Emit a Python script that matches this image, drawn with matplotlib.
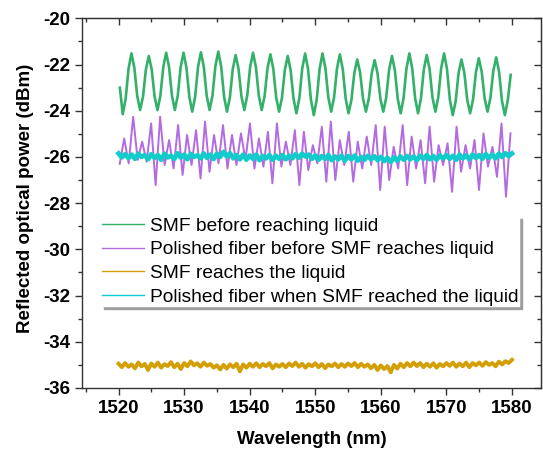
import numpy as np
import matplotlib
matplotlib.use('Agg')
import matplotlib.pyplot as plt
from matplotlib.ticker import MultipleLocator

plt.rcParams['font.family'] = ['Liberation Sans', 'DejaVu Sans']
plt.rcParams['axes.unicode_minus'] = False

# --- data ------------------------------------------------------------------
labels = ['SMF before reaching liquid',
          'Polished fiber before SMF reaches liquid',
          'SMF reaches the liquid',
          'Polished fiber when SMF reached the liquid']
colors = ['#33b06a', '#b36be0', '#d39f06', '#12cbcb']

# SMF before reaching liquid (peaks / shoulders / troughs)
wl_smf = np.linspace(1520.2, 1579.8, 136)
p_smf = [
    -23.00, -24.15, -23.49, -22.18, -21.52, -22.13, -23.36, -23.97, -23.39, -22.21,
    -21.63, -22.21, -23.39, -23.97, -23.35, -22.11, -21.49, -22.11, -23.35, -23.97,
    -23.35, -22.11, -21.49, -22.13, -23.40, -24.04, -23.40, -22.11, -21.47, -22.10,
    -23.35, -23.97, -23.34, -22.07, -21.44, -22.09, -23.39, -24.04, -23.43, -22.20,
    -21.59, -22.19, -23.38, -23.97, -23.35, -22.11, -21.49, -22.11, -23.35, -23.97,
    -23.37, -22.16, -21.56, -22.18, -23.42, -24.04, -23.44, -22.23, -21.63, -22.25,
    -23.49, -24.11, -23.46, -22.17, -21.52, -22.19, -23.52, -24.19, -23.52, -22.19,
    -21.52, -22.15, -23.41, -24.04, -23.42, -22.18, -21.56, -22.20, -23.47, -24.11,
    -23.53, -22.36, -21.78, -22.35, -23.48, -24.04, -23.48, -22.37, -21.81, -22.37,
    -23.48, -24.04, -23.44, -22.23, -21.63, -22.25, -23.49, -24.11, -23.46, -22.17,
    -21.52, -22.17, -23.46, -24.11, -23.48, -22.22, -21.59, -22.20, -23.43, -24.04,
    -23.41, -22.15, -21.52, -22.19, -23.52, -24.19, -23.59, -22.38, -21.78, -22.36,
    -23.53, -24.11, -23.52, -22.33, -21.73, -22.31, -23.46, -24.04, -23.45, -22.28,
    -21.69, -22.32, -23.57, -24.19, -23.55, -22.45,
]

# Polished fiber before SMF reaches liquid (alternating peaks / troughs)
wl_pol = np.linspace(1520.175, 1579.77, 88)
p_pol = [
    -26.30, -25.20, -26.28,
    -24.26, -26.13, -25.34, -26.21, -24.55, -27.22, -24.26, -26.35, -25.27, -26.50,
    -24.62, -26.78, -25.05, -26.35, -24.84, -26.93, -24.47, -26.64, -25.05, -26.28,
    -24.62, -26.50, -25.05, -26.35, -24.98, -26.13, -24.55, -26.50, -25.20, -26.42,
    -24.91, -27.14, -24.55, -26.42, -25.34, -26.35, -24.84, -27.22, -24.91, -26.57,
    -25.49, -26.28, -24.69, -27.07, -24.47, -27.00, -25.27, -26.35, -24.91, -27.07,
    -25.34, -26.50, -25.12, -26.35, -24.62, -27.43, -24.69, -27.00, -25.56, -26.50,
    -24.62, -27.22, -25.12, -26.50, -25.27, -27.14, -24.69, -27.07, -25.49, -26.35,
    -25.41, -27.51, -24.69, -26.64, -25.49, -26.50, -25.27, -27.43, -24.98, -26.42,
    -25.56, -26.86, -24.55, -27.72, -24.98,
]

# noisy traces, 0.5 nm step
wl_noise = np.linspace(1520, 1580, 121)
p_smf_liq = [
    -34.95, -35.10, -34.92, -35.08, -34.98, -35.15, -34.90, -35.06, -34.96, -35.22,
    -34.94, -35.08, -34.90, -35.12, -34.97, -35.05, -34.88, -35.10, -34.95, -35.18,
    -34.92, -35.06, -34.85, -35.02, -34.93, -35.08, -34.90, -35.04, -34.96, -35.12,
    -35.02, -35.20, -35.00, -35.16, -34.98, -35.10, -34.95, -35.28, -34.98, -35.12,
    -34.95, -35.08, -34.93, -35.10, -34.96, -35.06, -34.92, -35.15, -34.98, -35.08,
    -34.96, -35.10, -34.94, -35.05, -34.90, -35.08, -34.95, -35.12, -34.97, -35.06,
    -34.93, -35.10, -34.96, -35.14, -34.98, -35.06, -34.94, -35.10, -34.96, -35.08,
    -34.94, -35.05, -34.92, -35.10, -34.95, -35.08, -34.98, -35.14, -35.00, -35.22,
    -35.02, -35.18, -35.05, -35.32, -35.00, -35.16, -34.95, -35.10, -34.92, -35.06,
    -34.90, -35.05, -34.92, -35.10, -34.95, -35.08, -34.93, -35.12, -34.96, -35.06,
    -34.92, -35.04, -34.90, -35.08, -34.94, -35.06, -34.90, -35.10, -34.92, -35.02,
    -34.90, -35.04, -34.88, -35.00, -34.92, -35.06, -34.86, -34.98, -34.84, -34.92,
    -34.78,
]
p_pol_liq = [
    -25.85, -26.02, -25.88, -26.05, -25.90, -26.08, -25.86, -26.00, -25.92, -26.10,
    -25.88, -26.04, -25.92, -26.12, -25.86, -26.02, -25.95, -26.08, -25.84, -26.03,
    -25.90, -26.10, -25.87, -26.00, -25.93, -26.06, -25.85, -26.04, -25.90, -26.09,
    -25.86, -26.00, -25.78, -25.98, -25.84, -26.06, -25.92, -26.10, -25.90, -26.12,
    -25.94, -26.08, -25.90, -26.14, -25.96, -26.06, -25.92, -26.12, -25.95, -26.08,
    -25.92, -26.10, -25.95, -26.06, -25.88, -26.04, -25.86, -25.98, -25.90, -26.08,
    -25.94, -26.12, -25.96, -26.08, -25.92, -26.14, -25.98, -26.10, -25.95, -26.16,
    -25.96, -26.10, -25.94, -26.16, -26.00, -26.12, -25.95, -26.10, -25.97, -26.14,
    -26.00, -26.18, -26.04, -26.22, -26.02, -26.16, -25.98, -26.12, -25.96, -26.10,
    -25.98, -26.14, -25.95, -26.08, -25.92, -26.10, -25.96, -26.12, -25.94, -26.06,
    -25.92, -26.08, -25.95, -26.12, -25.90, -26.06, -25.93, -26.10, -25.90, -26.04,
    -25.92, -26.08, -25.88, -26.04, -25.90, -26.06, -25.86, -26.00, -25.84, -25.96,
    -25.85,
]

# --- figure -----------------------------------------------------------------
fig = plt.figure(figsize=(5.43, 4.51), dpi=100)
ax = fig.add_axes([0.1519, 0.1397, 0.8453, 0.8197])

ax.plot(wl_smf, p_smf, color=colors[0], lw=1.9, label=labels[0])
ax.plot(wl_pol, p_pol, color=colors[1], lw=1.4, label=labels[1])
ax.plot(wl_noise, p_smf_liq, color=colors[2], lw=2.8, label=labels[2])
ax.plot(wl_noise, p_pol_liq, color=colors[3], lw=3.4, label=labels[3])

ax.set_xlim(1514.5, 1584.5)
ax.set_ylim(-36, -20)
ax.xaxis.set_major_locator(MultipleLocator(10))
ax.xaxis.set_minor_locator(MultipleLocator(5))
ax.yaxis.set_major_locator(MultipleLocator(2))
ax.yaxis.set_minor_locator(MultipleLocator(1))

axcol = '#333333'
for s in ax.spines.values():
    s.set_color(axcol)
    s.set_linewidth(1.0)
ax.tick_params(which='major', direction='out', length=5, width=1, color=axcol,
               labelsize=13.5, pad=3.5)
ax.tick_params(which='minor', direction='out', length=3, width=1, color=axcol)
for t in ax.get_xticklabels() + ax.get_yticklabels():
    t.set_fontweight('bold')

# mirrored ticks pointing inward on top / right
top = ax.secondary_xaxis('top')
right = ax.secondary_yaxis('right')
top.xaxis.set_major_locator(MultipleLocator(10))
top.xaxis.set_minor_locator(MultipleLocator(5))
right.yaxis.set_major_locator(MultipleLocator(2))
right.yaxis.set_minor_locator(MultipleLocator(1))
for sec in (top, right):
    sec.tick_params(which='major', direction='in', length=5, width=1, color=axcol,
                    labelleft=False, labelright=False, labeltop=False, labelbottom=False)
    sec.tick_params(which='minor', direction='in', length=3, width=1, color=axcol)
    for s in sec.spines.values():
        s.set_color(axcol)

ax.set_xlabel('Wavelength (nm)', fontsize=13.5, fontweight='bold', labelpad=10)
ax.set_ylabel('Reflected optical power (dBm)', fontsize=13.5, fontweight='bold')
ax.yaxis.set_label_coords(-0.106, 0.514)

leg = ax.legend(loc='lower right', bbox_to_anchor=(0.9567, 0.3204),
                bbox_transform=fig.transFigure, fontsize=13.8, frameon=True,
                fancybox=False, shadow={'color': '0.62', 'alpha': 1},
                edgecolor='white', borderpad=0.05, labelspacing=0.32,
                handlelength=2.2, handletextpad=0.32, borderaxespad=0)
for line in leg.get_lines():
    line.set_linewidth(1.0)

fig.savefig('out.png', dpi=100)
